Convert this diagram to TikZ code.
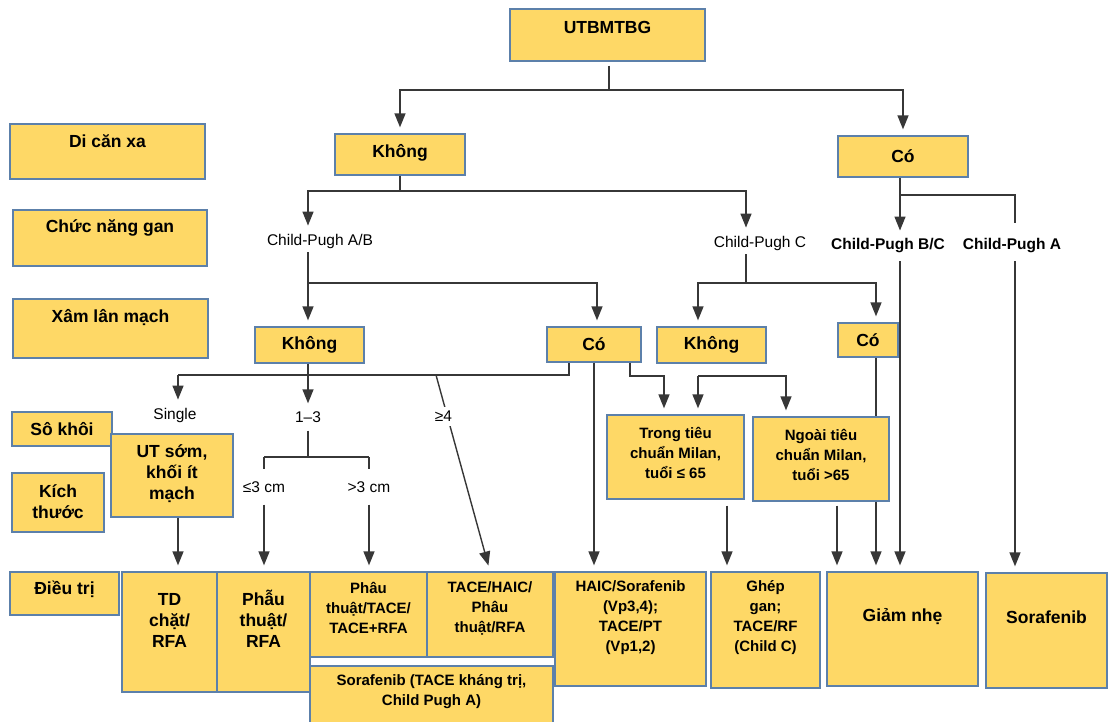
\documentclass[tikz,border=0pt]{standalone}
\usepackage{fontspec}
\setmainfont{Liberation Sans}
\usetikzlibrary{arrows.meta,fit}
\definecolor{boxfill}{RGB}{254,216,102}
\definecolor{boxedge}{RGB}{92,128,170}
\definecolor{wire}{RGB}{55,55,55}
\tikzset{
  box/.style={draw=boxedge, fill=boxfill, line width=1.3pt, inner sep=0pt},
  lbl/.style={font=\bfseries\fontsize{17.5}{21}\selectfont, align=center, inner sep=1pt},
  small/.style={font=\bfseries\fontsize{15}{20}\selectfont, align=center, inner sep=1pt},
  tag/.style={font=\fontsize{15.5}{18}\selectfont, inner sep=2pt},
  tagb/.style={font=\bfseries\fontsize{15.5}{18}\selectfont, inner sep=2pt},
  wireline/.style={draw=wire, line width=1.4pt},
  arr/.style={wireline, -{Triangle[length=14pt,width=11pt]}, shorten >=6pt},
}
% \ybox{name}{x1}{y1}{x2}{y2}{text y}{text style}{text}
\newcommand\ybox[8]{%
  \node[box, fit={(#2,#3) (#4,#5)}] (#1) {};
  \pgfmathsetmacro\tcx{(#2+#4)/2}
  \node[#7] (#1-t) at (\tcx,#6) {#8};
}
\begin{document}
\begin{tikzpicture}[x=1pt, y=-1pt]
\useasboundingbox (0,0) rectangle (1109,722);

% row headings on the left
\ybox{rowA}{10}{124}{205}{179}{141}{lbl}{Di căn xa}
\ybox{rowB}{13}{210}{207}{266}{228}{lbl}{Chức năng gan}
\ybox{rowC}{13}{299}{208}{358}{318}{lbl}{Xâm lân mạch}
\ybox{rowD}{12}{412}{112}{446}{429}{lbl}{Sô khôi}
\ybox{rowE}{12}{473}{104}{532}{502}{lbl}{Kích\\thước}
\ybox{rowF}{10}{572}{119}{615}{589}{lbl}{Điều trị}

% decision boxes
\ybox{utb}{510}{9}{705}{61}{27}{lbl}{UTBMTBG}
\ybox{kh1}{335}{134}{465}{175}{153}{lbl}{Không}
\ybox{co1}{838}{136}{968}{177}{156}{lbl}{Có}
\ybox{kh2}{255}{327}{364}{363}{345}{lbl}{Không}
\ybox{co2}{547}{327}{641}{362}{344}{lbl}{Có}
\ybox{kh3}{657}{327}{766}{363}{345}{lbl}{Không}
\ybox{co3}{838}{323}{898}{357}{340}{lbl}{Có}
\ybox{ut}{111}{434}{233}{517}{474}{lbl}{UT sớm,\\khối ít\\mạch}
\ybox{trong}{607}{415}{744}{499}{453}{small}{Trong tiêu\\chuẩn Milan,\\tuổi ≤ 65}
\ybox{ngoai}{753}{417}{889}{501}{455}{small}{Ngoài tiêu\\chuẩn Milan,\\tuổi >65}

% treatments
\ybox{td}{122}{572}{217}{692}{620}{lbl}{TD\\chặt/\\RFA}
\ybox{pt}{217}{572}{310}{692}{619}{lbl}{Phẫu\\thuật/\\RFA}
\ybox{ptt}{310}{572}{427}{657}{608}{small}{Phâu\\thuật/TACE/\\TACE+RFA}
\ybox{tace}{427}{572}{553}{657}{608}{small}{TACE/HAIC/\\Phâu\\thuật/RFA}
\ybox{sorA}{310}{666}{553}{723}{692}{small}{Sorafenib (TACE kháng trị,\\Child Pugh A)}
\ybox{haic}{555}{572}{706}{686}{618}{small}{HAIC/Sorafenib\\(Vp3,4);\\TACE/PT\\(Vp1,2)}
\ybox{ghep}{711}{572}{820}{688}{618}{small}{Ghép\\gan;\\TACE/RF\\(Child C)}
\ybox{giam}{827}{572}{978}{686}{617}{lbl}{Giảm nhẹ}
\ybox{sora}{986}{573}{1107}{688}{617}{lbl}{Sorafenib}

% branch labels
\node[tag]  (cpab)   at (320,241) {Child-Pugh A/B};
\node[tag]  (cpc)    at (760,243) {Child-Pugh C};
\node[tagb] (cpbc)   at (888,246) {Child-Pugh B/C};
\node[tagb] (cpa)    at (1012,246) {Child-Pugh A};
\node[tag]  (single) at (175,415) {Single};
\node[tag]  (n13)    at (308,417) {1–3};
\node[tag]  (le3)    at (264,487) {≤3 cm};
\node[tag]  (gt3)    at (369,487) {>3 cm};

% junction points
\coordinate (j1) at (609,90);
\coordinate (j2) at (400,191);
\coordinate (a1) at (308,191);
\coordinate (a2) at (746,191);
\coordinate (j3) at (900,195);
\coordinate (a3) at (1015,195);
\coordinate (a3e) at (1015,223);
\coordinate (j4) at (308,283);
\coordinate (a4) at (597,283);
\coordinate (j5) at (746,283);
\coordinate (a5) at (698,283);
\coordinate (a6) at (876,283);
\coordinate (h1) at (178,375);
\coordinate (h2) at (308,375);
\coordinate (h3) at (436,375);
\coordinate (h4) at (569,375);
\coordinate (b1) at (630,376);
\coordinate (b2) at (664,376);
\coordinate (b3) at (698,376);
\coordinate (b4) at (786,376);
\coordinate (b5) at (727,505);
\coordinate (b6) at (837,505);
\coordinate (c1) at (308,457);
\coordinate (c2) at (264,457);
\coordinate (c3) at (369,457);

% metastasis split
\draw[wireline, shorten <=4pt] (utb.south -| j1) -- (j1);
\draw[arr] (j1) -| (kh1.north);
\draw[arr] (j1) -| (co1.north);

% liver function
\draw[wireline] (kh1.south -| j2) -- (j2);
\draw[arr] (j2) -- (a1) -- (cpab.north -| a1);
\draw[arr] (j2) -- (a2) -- (cpc.north -| a2);
\draw[arr] (co1.south -| j3) -- (cpbc.north -| j3);
\draw[wireline] (j3) -- (a3) -- (a3e);
\draw[arr, shorten <=6pt] (cpbc.south -| j3) -- (giam.north -| j3);
\draw[arr, shorten <=6pt] (cpa.south -| a3) -- (sora.north -| a3);

% vascular invasion
\draw[arr, shorten <=2pt] (cpab.south -| j4) -- (kh2.north -| j4);
\draw[arr] (j4) -- (a4) -- (co2.north -| a4);
\draw[wireline, shorten <=2pt] (cpc.south -| j5) -- (j5);
\draw[arr] (j5) -- (a5) -- (kh3.north -| a5);
\draw[arr] (j5) -- (a6) -- (co3.north -| a6);

% number of tumours
\draw[wireline] (kh2.south -| h2) -- (h2);
\draw[wireline] (h1) -- (h4) -- (co2.south -| h4);
\draw[arr] (h1) -- (single.north -| h1);
\draw[arr] (h2) -- (n13.north -| h2);
\draw[arr] (h3) -- node[tag, fill=white, pos=0.21, xshift=-4pt, inner sep=4pt] (ge4) {≥4} (tace.north);

% size
\draw[wireline, shorten <=6pt] (n13.south) -- (c1);
\draw[wireline] (c2) -- (c3);
\draw[wireline, shorten >=10pt] (c2) -- (le3.north -| c2);
\draw[wireline, shorten >=10pt] (c3) -- (gt3.north -| c3);
\draw[arr, shorten <=10pt] (le3.south -| c2) -- (pt.north -| c2);
\draw[arr, shorten <=10pt] (gt3.south -| c3) -- (ptt.north -| c3);
\draw[arr] (ut.south -| h1) -- (td.north -| h1);

% invasion branch towards Milan criteria
\draw[arr] (co2.south -| b1) -- (b1) -- (b2) -- (trong.north -| b2);
\draw[arr] (co2.south) -- (haic.north -| co2.south);
\draw[arr] (b3) -- (trong.north -| b3);
\draw[arr] (b3) -- (b4) -- (ngoai.north -| b4);
\draw[wireline] (co3.south -| a6) -- (ngoai.north -| a6);
\draw[arr] (ngoai.south -| a6) -- (giam.north -| a6);
\draw[arr, shorten <=6pt] (trong.south -| b5) -- (ghep.north -| b5);
\draw[arr, shorten <=4pt] (ngoai.south -| b6) -- (giam.north -| b6);
\end{tikzpicture}
\end{document}
